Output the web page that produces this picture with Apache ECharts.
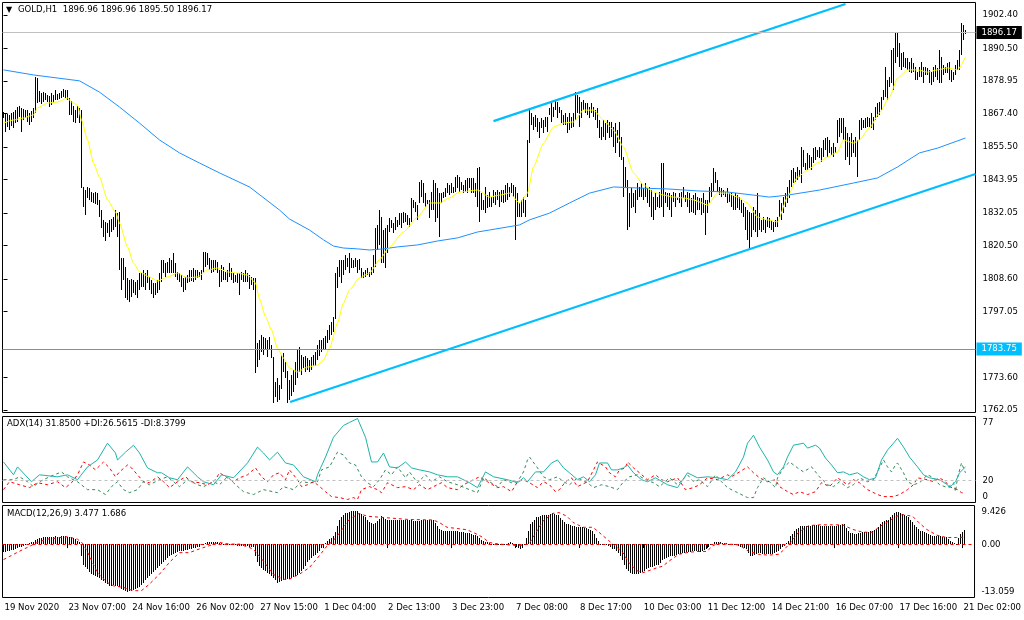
<!DOCTYPE html>
<html><head><meta charset="utf-8">
<script src="https://cdn.jsdelivr.net/npm/echarts@6/dist/echarts.min.js"></script>
<style>html,body{margin:0;padding:0;background:#fff}#c{width:1024px;height:620px}</style>
</head><body><div id="c"></div><script>
// ---- price bars (H1) ----
const barHigh = [
1867.9,1867.6,1867.2,1866.9,1867.6,1867.9,1868.6,1869.7,1870.1,1869.4,
1869.0,1868.6,1868.6,1867.6,1868.3,1869.4,1880.4,1880.0,1875.4,1874.7,
1875.0,1874.7,1874.0,1873.6,1874.7,1874.0,1875.8,1874.3,1874.7,1875.4,
1876.1,1875.8,1875.8,1872.9,1871.8,1870.1,1868.6,1870.1,1869.4,1868.6,
1841.3,1840.2,1841.3,1840.9,1839.5,1839.1,1839.5,1839.1,1836.7,1833.1,
1829.6,1828.9,1828.5,1829.6,1829.9,1830.6,1833.1,1832.0,1832.4,1816.1,
1816.1,1812.9,1809.0,1808.2,1808.6,1808.2,1807.5,1808.2,1810.7,1810.7,
1811.8,1810.7,1811.8,1809.3,1808.2,1807.2,1807.2,1808.2,1810.7,1815.4,
1815.4,1814.3,1814.6,1816.1,1815.4,1817.8,1814.3,1811.1,1810.7,1810.0,
1809.0,1809.3,1810.0,1811.8,1811.8,1812.5,1811.8,1811.8,1811.1,1811.8,
1818.2,1818.2,1817.8,1816.1,1815.4,1815.4,1815.4,1814.6,1811.8,1813.6,
1812.9,1811.1,1811.8,1814.3,1812.5,1810.7,1810.0,1810.7,1810.7,1811.1,
1810.7,1811.8,1810.7,1810.0,1809.3,1809.0,1809.0,1785.9,1787.0,1788.7,
1788.0,1787.6,1787.0,1788.0,1785.2,1781.0,1772.0,1773.4,1770.9,1781.6,
1782.3,1779.1,1776.0,1772.7,1774.5,1776.3,1779.1,1783.4,1784.4,1781.6,
1780.9,1781.2,1780.5,1779.8,1780.9,1781.6,1782.7,1785.2,1786.9,1786.9,
1787.6,1788.3,1790.5,1792.3,1793.3,1795.1,1810.7,1812.9,1815.4,1815.4,
1815.4,1817.1,1816.1,1817.8,1816.1,1815.4,1816.1,1815.4,1815.7,1812.5,
1811.1,1811.8,1812.5,1811.1,1812.9,1817.1,1826.7,1827.8,1833.1,1830.6,
1826.0,1826.7,1827.8,1830.2,1829.6,1828.5,1830.6,1829.6,1831.9,1831.9,
1832.4,1831.9,1831.3,1830.2,1837.4,1836.7,1836.0,1834.9,1843.1,1843.8,
1842.7,1839.1,1836.7,1836.7,1839.5,1843.8,1842.7,1840.9,1839.1,1839.1,
1839.5,1840.9,1842.7,1842.0,1842.7,1841.3,1844.8,1845.6,1844.8,1843.1,
1842.0,1843.8,1844.5,1844.5,1844.5,1844.5,1842.7,1848.0,1848.4,1839.1,
1836.7,1841.3,1838.4,1839.5,1837.7,1840.2,1839.5,1840.2,1839.5,1840.2,
1840.2,1842.0,1842.7,1841.3,1842.7,1842.0,1841.3,1839.1,1835.6,1836.7,
1837.7,1836.7,1858.0,1868.6,1867.6,1866.2,1866.9,1865.8,1864.4,1865.8,
1865.1,1866.2,1866.2,1869.4,1871.1,1869.7,1872.2,1871.5,1869.7,1868.6,
1866.9,1867.6,1866.2,1867.6,1866.2,1867.6,1875.0,1874.0,1873.3,1871.5,
1872.2,1871.1,1871.1,1869.7,1871.1,1869.7,1868.6,1869.4,1865.1,1862.6,
1865.1,1864.0,1865.1,1864.4,1864.4,1862.6,1864.0,1861.5,1864.4,1859.1,
1852.0,1848.4,1843.8,1839.1,1840.9,1839.1,1840.2,1842.7,1841.3,1842.7,
1840.9,1842.7,1840.9,1841.3,1840.2,1837.7,1839.1,1837.7,1839.5,1849.8,
1849.8,1839.5,1839.1,1839.1,1838.4,1839.5,1839.1,1837.7,1839.1,1839.5,
1841.3,1838.4,1839.5,1839.1,1837.4,1838.4,1839.1,1837.7,1837.4,1837.4,
1839.1,1836.7,1836.7,1841.3,1842.7,1848.0,1846.6,1843.8,1841.3,1840.9,
1840.2,1839.5,1840.9,1839.1,1839.5,1838.4,1839.1,1838.4,1837.7,1836.7,
1835.6,1834.2,1833.1,1832.4,1832.0,1834.2,1833.1,1839.1,1832.0,1829.6,
1830.6,1829.6,1830.6,1830.2,1829.6,1828.9,1829.6,1830.6,1836.7,1835.6,
1837.7,1839.1,1841.3,1843.8,1847.3,1848.0,1846.6,1848.4,1847.3,1855.5,
1854.4,1849.8,1853.4,1852.7,1851.9,1855.1,1855.5,1854.4,1855.5,1855.1,
1858.0,1858.7,1859.1,1858.0,1855.5,1856.9,1855.5,1865.1,1865.8,1865.8,
1865.8,1862.6,1860.5,1859.1,1860.5,1858.0,1859.1,1858.0,1865.1,1865.8,
1865.1,1865.8,1866.2,1865.8,1867.6,1866.2,1869.7,1871.1,1871.5,1873.3,
1875.8,1883.9,1879.3,1880.4,1890.0,1890.7,1896.4,1896.0,1892.4,1888.9,
1889.3,1887.1,1887.1,1885.7,1887.1,1885.3,1883.9,1882.1,1883.9,1885.7,
1883.9,1883.9,1883.6,1882.9,1882.1,1883.9,1884.6,1883.6,1890.0,1887.5,
1884.6,1883.9,1885.3,1885.7,1882.9,1882.1,1884.6,1886.4,1890.0,1899.6,
1898.9,1896.96];
const barLow = [
1865.8,1860.8,1862.6,1861.5,1862.9,1862.3,1864.0,1864.4,1866.2,1860.8,
1865.1,1865.8,1864.4,1863.3,1864.4,1865.8,1867.6,1871.1,1871.5,1870.8,
1871.5,1872.2,1871.5,1869.7,1870.4,1871.1,1872.2,1872.2,1872.6,1872.9,
1873.3,1872.9,1872.2,1866.9,1866.9,1864.4,1864.0,1865.8,1864.0,1840.9,
1834.2,1831.3,1837.4,1836.7,1836.0,1835.6,1835.3,1834.9,1830.6,1826.7,
1823.4,1822.1,1825.0,1823.5,1825.3,1826.0,1827.1,1823.5,1811.8,1804.7,
1808.2,1801.9,1801.1,1800.4,1802.2,1803.6,1802.9,1801.9,1804.7,1805.8,
1805.8,1804.7,1807.2,1804.7,1803.3,1801.9,1802.9,1803.6,1804.7,1807.5,
1810.7,1809.3,1810.7,1810.7,1810.7,1810.7,1809.3,1808.2,1807.5,1805.8,
1804.0,1804.7,1807.2,1807.5,1807.9,1807.5,1808.2,1808.9,1809.3,1808.2,
1810.7,1812.9,1813.6,1811.8,1810.7,1811.1,1811.8,1810.7,1805.8,1807.5,
1808.2,1808.2,1807.5,1809.3,1808.2,1807.2,1807.5,1807.2,1802.9,1808.2,
1807.5,1807.5,1807.5,1805.1,1806.5,1804.7,1775.2,1777.3,1779.8,1782.7,
1781.6,1783.4,1780.9,1783.4,1780.5,1764.6,1766.7,1764.9,1765.6,1769.5,
1775.6,1773.4,1764.5,1765.6,1767.0,1768.4,1770.9,1773.4,1775.6,1774.5,
1777.0,1775.6,1776.3,1775.6,1776.3,1777.7,1777.7,1779.8,1781.2,1782.7,
1783.4,1783.4,1785.9,1786.9,1788.7,1789.8,1794.5,1805.4,1809.3,1807.2,
1810.0,1811.8,1812.9,1810.7,1812.5,1812.5,1812.9,1810.7,1811.8,1808.9,
1808.9,1809.3,1810.0,1809.3,1810.0,1810.7,1812.9,1818.9,1820.7,1814.3,
1814.3,1812.5,1817.8,1825.3,1826.7,1825.0,1826.0,1827.1,1827.8,1826.7,
1828.5,1828.9,1827.8,1827.1,1828.9,1833.8,1832.4,1829.6,1835.6,1837.8,
1835.6,1834.2,1834.9,1830.2,1833.1,1833.1,1828.9,1830.2,1823.5,1835.6,
1837.4,1837.8,1839.1,1838.5,1839.1,1839.1,1839.5,1840.9,1839.5,1840.2,
1839.1,1839.5,1839.1,1840.9,1839.1,1839.1,1837.8,1834.2,1828.9,1833.1,
1833.1,1832.0,1833.8,1834.2,1834.2,1835.6,1834.9,1836.7,1834.2,1836.0,
1835.6,1836.0,1836.7,1837.8,1839.1,1837.8,1822.5,1830.6,1830.6,1830.6,
1832.0,1830.6,1837.7,1856.9,1863.3,1861.5,1862.6,1860.8,1858.7,1862.3,
1860.5,1862.6,1860.8,1866.9,1864.4,1866.2,1868.6,1865.8,1867.6,1864.0,
1863.3,1863.3,1860.5,1861.5,1862.3,1862.6,1865.1,1867.6,1862.6,1865.8,
1868.6,1867.6,1866.9,1865.8,1867.6,1866.2,1865.1,1862.3,1858.7,1858.0,
1859.1,1858.0,1860.5,1858.7,1859.1,1855.5,1853.4,1856.9,1852.0,1850.9,
1837.7,1841.3,1826.0,1827.1,1833.8,1834.2,1832.0,1836.7,1837.8,1837.8,
1836.7,1837.8,1835.6,1834.2,1830.6,1829.6,1833.1,1834.2,1833.8,1834.2,
1830.6,1835.6,1834.2,1833.1,1830.6,1836.0,1834.2,1836.7,1835.6,1834.2,
1837.4,1836.0,1834.2,1832.0,1832.4,1832.0,1831.3,1833.1,1833.1,1831.3,
1832.0,1824.2,1832.0,1835.6,1837.8,1839.5,1842.7,1839.5,1838.4,1837.7,
1838.4,1837.7,1835.6,1836.0,1834.2,1833.1,1833.1,1833.8,1833.1,1832.0,
1830.6,1826.0,1822.5,1818.9,1823.5,1826.0,1825.3,1823.5,1826.0,1825.3,
1826.0,1825.0,1827.1,1826.7,1826.0,1825.3,1827.1,1827.1,1830.6,1829.6,
1832.0,1834.2,1835.6,1837.4,1841.3,1842.7,1843.1,1843.8,1844.8,1842.7,
1848.4,1847.3,1847.3,1848.0,1847.3,1849.8,1850.9,1852.0,1851.6,1850.2,
1852.0,1854.4,1852.0,1853.4,1852.7,1852.0,1853.4,1856.9,1859.1,1860.5,
1858.0,1850.9,1852.0,1849.1,1852.0,1853.4,1852.0,1844.8,1858.0,1861.5,
1862.3,1862.3,1862.6,1862.6,1862.3,1861.5,1865.1,1866.2,1866.9,1868.6,
1872.2,1873.3,1872.2,1876.8,1878.2,1875.8,1885.3,1887.5,1883.9,1882.9,
1883.9,1883.6,1882.9,1882.1,1881.8,1882.1,1879.3,1879.3,1880.4,1880.4,
1878.2,1881.1,1881.1,1878.2,1877.5,1878.6,1880.4,1879.3,1878.2,1878.2,
1881.1,1881.8,1881.8,1879.3,1878.6,1879.3,1881.1,1882.9,1882.9,1888.2,
1893.5,1895.50];

// ---- moving averages on price: [bar index, value] ----
const maFast = [[0,1864.0],[5,1865.1],[10,1865.8],[15,1866.9],[17,1869.4],[22,1871.1],[27,1871.5],[32,1872.9],[34,1871.5],[37,1870.4],[39,1865.1],[42,1858.0],[45,1849.8],[48,1844.8],[52,1836.7],[56,1832.4],[58,1828.5],[62,1820.0],[65,1814.3],[68,1811.1],[73,1809.3],[77,1807.9],[82,1809.3],[87,1810.7],[92,1809.0],[97,1809.3],[102,1811.8],[107,1812.5],[112,1811.1],[117,1810.7],[122,1810.0],[126,1807.2],[128,1801.5],[131,1795.2],[134,1790.5],[137,1784.0],[140,1780.5],[143,1777.0],[147,1775.6],[152,1777.3],[157,1778.0],[160,1779.8],[163,1784.0],[167,1793.0],[170,1800.1],[173,1804.7],[178,1809.0],[183,1810.7],[188,1815.4],[193,1820.0],[200,1825.3],[207,1830.6],[213,1835.6],[218,1835.6],[223,1837.4],[228,1839.5],[237,1840.2],[243,1837.7],[248,1838.4],[253,1839.1],[258,1835.6],[262,1839.1],[265,1848.4],[270,1856.9],[275,1862.6],[280,1864.0],[285,1864.4],[290,1868.6],[295,1868.6],[300,1865.1],[305,1861.5],[310,1855.5],[315,1846.3],[320,1842.0],[325,1839.5],[330,1838.4],[335,1837.7],[340,1837.4],[345,1836.7],[352,1834.9],[357,1839.1],[362,1839.1],[367,1837.7],[372,1835.6],[377,1830.6],[382,1829.6],[387,1828.9],[392,1837.7],[397,1844.8],[402,1847.3],[407,1849.8],[412,1851.9],[417,1853.7],[420,1858.0],[425,1856.9],[428,1858.0],[433,1862.3],[438,1867.6],[443,1873.3],[447,1880.0],[452,1882.9],[457,1882.9],[462,1882.1],[467,1882.9],[472,1883.6],[477,1882.9],[481,1887.5]];
const maSlow = [[0,1882.9],[15,1881.1],[38,1879.0],[48,1875.0],[58,1869.7],[68,1864.0],[78,1858.0],[88,1853.4],[98,1849.8],[108,1846.3],[123,1841.3],[138,1833.1],[143,1829.9],[153,1826.0],[160,1822.5],[165,1820.3],[170,1819.6],[177,1819.3],[183,1818.9],[190,1819.3],[197,1820.0],[207,1820.7],[217,1822.1],[227,1823.2],[237,1825.3],[243,1826.0],[258,1827.8],[263,1829.6],[273,1832.0],[283,1835.6],[293,1839.1],[305,1841.3],[318,1840.9],[332,1840.6],[347,1839.9],[362,1839.5],[375,1838.4],[383,1837.7],[392,1838.4],[408,1840.2],[425,1842.7],[437,1844.5],[447,1848.4],[458,1853.4],[467,1855.1],[481,1858.7]];

// ---- drawn objects ----
const upperChannel = [[245,1864.7],[421,1906.3]];
const lowerChannel = [[143.3,1764.9],[486,1845.9]];
const supportLevel = 1783.75;
const bidPrice = 1896.17;

// ---- ADX(14): [bar index, value] ----
const adxMain = [[0,36.3],[5,24.8],[7,31.9],[14,18.6],[18,24.8],[27,23.0],[32,24.8],[37,20.4],[42,31.9],[47,38.1],[52,53.1],[56,44.3],[57,38.1],[61,45.1],[65,51.3],[68,44.3],[72,31.0],[77,26.6],[79,26.6],[83,22.1],[87,20.4],[92,31.9],[97,23.0],[100,18.6],[105,15.9],[109,24.8],[115,22.1],[122,35.4],[127,49.6],[130,44.3],[133,38.1],[137,45.1],[141,35.4],[145,33.6],[150,23.0],[156,18.6],[157,24.8],[161,40.7],[165,58.4],[170,69.0],[173,71.7],[177,75.2],[181,58.4],[184,36.3],[187,36.3],[190,44.3],[193,31.9],[197,31.0],[201,36.3],[204,31.0],[208,29.2],[213,27.4],[217,24.8],[222,23.0],[227,23.0],[233,17.7],[237,13.3],[241,27.4],[245,23.0],[252,20.4],[257,17.7],[260,22.1],[262,18.6],[266,27.4],[270,27.4],[274,35.4],[277,38.1],[280,31.0],[283,26.6],[287,20.4],[290,23.0],[293,18.6],[296,24.8],[298,35.4],[302,35.4],[304,29.2],[307,29.2],[310,31.0],[312,33.6],[315,26.6],[319,20.4],[322,18.6],[326,22.1],[332,15.9],[337,13.3],[342,26.6],[347,22.1],[352,23.0],[357,22.1],[362,20.4],[366,27.4],[370,40.7],[372,53.1],[375,60.2],[378,49.6],[382,38.1],[385,27.4],[387,24.8],[390,31.9],[392,40.7],[395,51.3],[400,53.1],[402,48.7],[406,51.3],[408,48.7],[411,39.8],[414,33.6],[417,26.6],[420,27.4],[423,24.8],[427,26.6],[430,23.0],[433,20.4],[436,22.1],[439,38.1],[442,46.9],[445,53.1],[447,57.5],[450,49.6],[453,40.7],[457,31.9],[460,24.8],[463,22.1],[468,20.4],[472,15.9],[473,13.3],[476,18.6],[478,26.6],[481,31.85]];
const plusDI = [[0,20.4],[5,20.4],[8,23.0],[12,18.6],[15,14.2],[18,18.6],[23,23.0],[29,27.4],[32,23.0],[37,18.6],[42,11.5],[47,11.5],[51,7.1],[54,14.2],[57,18.6],[60,11.5],[63,8.8],[67,11.5],[70,18.6],[73,15.9],[78,20.4],[82,23.0],[85,18.6],[88,14.2],[92,20.4],[97,15.9],[100,14.2],[105,18.6],[108,15.9],[112,23.0],[115,17.7],[120,9.7],[125,7.1],[130,11.5],[137,8.8],[140,14.2],[145,11.5],[149,18.6],[153,17.7],[157,18.6],[159,29.2],[163,31.9],[167,45.1],[170,42.5],[173,35.4],[176,33.6],[179,23.0],[182,17.7],[185,14.2],[188,20.4],[191,29.2],[194,24.8],[197,31.9],[201,22.1],[203,27.4],[207,17.7],[211,24.8],[214,18.6],[218,23.0],[222,18.6],[227,15.9],[233,11.5],[237,8.8],[240,22.1],[243,18.6],[247,14.2],[250,20.4],[254,17.7],[257,18.6],[260,27.4],[262,38.1],[263,40.7],[267,31.0],[270,23.0],[273,20.4],[277,23.0],[280,18.6],[283,15.9],[287,22.1],[292,17.7],[295,13.3],[299,15.9],[303,14.2],[307,11.5],[310,18.6],[313,23.0],[317,24.8],[321,20.4],[325,17.7],[328,14.2],[333,22.1],[337,15.9],[342,24.8],[345,18.6],[348,20.4],[352,14.2],[356,24.8],[359,18.6],[362,13.3],[366,9.7],[372,4.4],[375,4.4],[377,13.3],[380,22.1],[383,18.6],[386,13.3],[387,22.1],[390,31.0],[393,36.3],[397,31.0],[400,27.4],[404,31.9],[408,23.0],[412,15.9],[415,14.2],[418,18.6],[422,13.3],[425,15.9],[428,22.1],[432,18.6],[435,20.4],[438,31.0],[440,38.1],[442,31.9],[444,27.4],[446,33.6],[447,35.4],[450,26.6],[452,18.6],[455,15.9],[458,17.7],[462,24.8],[465,22.1],[468,15.9],[472,13.3],[475,17.7],[476,9.7],[477,22.1],[479,35.4],[481,26.56]];
const minusDI = [[0,11.5],[3,18.6],[8,15.9],[13,13.3],[17,17.7],[22,15.9],[27,18.6],[31,13.3],[34,17.7],[37,24.8],[40,36.3],[43,33.6],[46,29.2],[50,36.3],[53,31.0],[56,23.0],[58,27.4],[62,33.6],[64,31.0],[67,24.8],[70,18.6],[73,17.7],[77,23.0],[80,18.6],[83,13.3],[87,18.6],[91,23.0],[94,18.6],[98,17.7],[102,15.9],[106,20.4],[108,26.6],[112,22.1],[115,18.6],[118,22.1],[122,24.8],[126,31.0],[129,23.0],[132,18.6],[135,24.8],[138,26.6],[141,20.4],[143,29.2],[147,20.4],[149,14.2],[152,15.9],[155,18.6],[157,15.9],[161,9.7],[164,5.3],[168,4.4],[172,2.7],[175,4.4],[177,2.7],[179,11.5],[183,14.2],[187,11.5],[189,8.8],[192,17.7],[197,13.3],[201,14.2],[205,11.5],[208,15.9],[212,11.5],[215,14.2],[219,17.7],[222,13.3],[227,11.5],[230,15.9],[233,18.6],[238,23.0],[242,18.6],[247,13.3],[250,14.2],[254,9.7],[257,18.6],[260,20.4],[263,17.7],[267,13.3],[270,18.6],[273,15.9],[276,9.7],[278,11.5],[281,18.6],[284,22.1],[287,14.2],[292,18.6],[295,29.2],[297,36.3],[301,31.9],[303,26.6],[306,23.0],[308,29.2],[311,31.0],[312,36.3],[315,31.0],[318,26.6],[322,20.4],[326,24.8],[329,20.4],[332,18.6],[337,22.1],[341,11.5],[345,13.3],[348,15.9],[352,22.1],[357,20.4],[362,24.8],[364,23.0],[368,27.4],[372,31.9],[375,26.6],[378,22.1],[382,18.6],[386,20.4],[388,14.2],[392,9.7],[395,7.1],[398,9.7],[402,7.1],[406,9.7],[409,17.7],[413,14.2],[417,22.1],[422,15.9],[425,20.4],[428,17.7],[432,11.5],[437,7.1],[440,5.3],[445,5.3],[448,7.1],[452,11.5],[455,15.9],[457,22.1],[462,20.4],[465,18.6],[468,22.1],[471,18.6],[473,14.2],[477,11.5],[479,8.8],[481,8.38]];
const adxLevel = 20;

// ---- MACD(12,26,9) ----
const macdHist = [
-2.0,-1.9,-1.8,-1.7,-1.5,-1.4,-1.2,-1.0,-0.8,-0.6,
-0.4,-0.2,0.0,0.2,0.4,0.6,1.0,1.3,1.4,1.6,
1.7,1.7,1.8,1.7,1.8,1.8,1.9,1.8,1.8,1.9,
1.9,1.9,1.8,1.8,1.7,1.5,1.3,0.8,0.5,-3.0,
-5.0,-5.6,-6.2,-6.8,-7.4,-7.6,-7.8,-8.0,-8.3,-8.7,
-9.0,-9.4,-9.8,-10.2,-10.2,-10.1,-10.2,-10.3,-10.6,-10.9,
-11.2,-11.4,-11.6,-11.5,-11.4,-11.2,-11.0,-10.7,-10.4,-9.9,
-9.4,-8.9,-8.4,-7.9,-7.4,-6.9,-6.4,-5.9,-5.4,-4.9,
-4.4,-3.9,-3.5,-3.0,-2.7,-2.4,-2.2,-2.0,-1.8,-1.7,
-1.6,-1.5,-1.4,-1.3,-1.1,-1.0,-0.9,-0.7,-0.6,-0.3,
-0.1,0.2,0.4,0.4,0.5,0.5,0.4,0.4,0.3,0.2,
0.1,0.1,0.0,-0.1,-0.2,-0.3,-0.3,-0.4,-0.4,-0.4,
-0.5,-0.5,-0.5,-0.6,-0.6,-0.8,-3.0,-4.3,-5.4,-5.9,
-6.3,-6.7,-7.0,-7.4,-7.8,-8.2,-8.8,-9.4,-9.3,-9.0,
-8.8,-8.7,-8.6,-8.5,-8.3,-8.0,-7.8,-7.5,-7.0,-6.5,
-6.0,-5.3,-4.5,-3.8,-3.4,-3.0,-2.6,-2.2,-1.6,-1.0,
-0.5,0.2,0.8,1.2,1.6,2.0,3.0,4.3,6.0,6.6,
7.2,7.5,7.7,7.9,8.0,8.1,8.1,8.0,7.7,7.3,
6.9,6.5,5.9,5.3,5.1,5.0,5.2,5.6,6.2,6.8,
6.5,6.2,6.0,5.9,5.8,5.8,5.9,5.9,5.9,5.8,
5.9,5.9,5.9,5.8,5.8,5.7,5.6,5.6,5.7,5.8,
5.8,5.9,5.9,5.9,5.9,5.9,5.1,4.3,3.8,3.4,
3.1,3.1,3.2,3.3,3.3,3.3,3.2,3.1,3.0,2.9,
2.9,2.8,2.8,2.7,2.5,2.3,2.1,1.9,1.5,1.1,
0.8,0.6,0.4,0.2,0.1,0.0,0.0,0.0,0.0,-0.1,
0.0,0.0,0.0,0.2,0.4,0.3,-0.2,-0.6,-0.9,-1.2,
-0.9,-0.3,1.5,3.2,4.8,5.5,6.0,6.5,6.7,6.9,
7.0,7.1,7.1,7.2,7.4,7.5,7.4,7.2,7.0,6.4,
5.8,5.3,5.0,4.8,4.6,4.4,4.3,4.1,4.1,4.1,
4.1,4.0,3.9,3.8,3.5,3.1,2.4,1.6,0.8,0.0,
-0.1,-0.1,-0.2,-0.5,-0.8,-1.1,-1.3,-1.6,-2.2,-2.8,
-4.0,-5.2,-6.2,-6.6,-7.0,-7.2,-7.3,-7.4,-7.2,-7.0,
-6.8,-6.5,-6.2,-5.9,-5.7,-5.5,-5.4,-5.2,-5.0,-4.6,
-4.0,-3.6,-3.3,-3.1,-3.0,-2.9,-2.8,-2.6,-2.5,-2.4,
-2.2,-2.1,-2.0,-1.9,-1.9,-1.8,-1.8,-1.8,-1.9,-1.9,
-1.8,-1.5,-1.1,-0.8,-0.3,0.1,0.4,0.5,0.5,0.4,
0.3,0.3,0.2,0.1,0.1,0.0,-0.1,-0.3,-0.4,-0.6,
-0.8,-1.0,-1.2,-2.2,-3.0,-2.8,-2.6,-2.4,-2.2,-2.3,
-2.4,-2.5,-2.5,-2.5,-2.5,-2.5,-2.3,-2.0,-1.6,-1.2,
-0.8,-0.4,0.2,0.8,1.9,2.5,3.1,3.6,4.0,4.3,
4.4,4.4,4.5,4.5,4.5,4.6,4.6,4.6,4.6,4.5,
4.5,4.5,4.5,4.5,4.4,4.4,4.3,4.4,4.6,4.7,
4.8,4.8,4.0,3.1,2.8,2.6,2.5,2.4,2.6,2.8,
2.9,2.9,3.0,3.0,3.1,3.2,3.4,3.6,4.2,4.8,
5.3,5.6,5.8,6.0,6.5,7.0,7.5,7.8,7.9,7.6,
7.3,7.0,6.8,6.5,5.9,5.3,4.7,4.1,3.6,3.3,
3.1,2.9,2.7,2.5,2.2,2.0,2.0,1.9,1.9,1.9,
1.8,1.8,1.8,1.3,0.8,0.5,0.3,0.1,1.6,2.4,
3.0,3.477];
const macdSignal = [[0,-3.8],[7,-2.0],[12,-0.8],[17,0.4],[22,1.2],[32,1.8],[37,1.2],[40,0],[43,-2.9],[47,-7.0],[52,-9.4],[55,-10.2],[60,-10.6],[65,-11.4],[69,-11.4],[73,-9.8],[78,-7.4],[83,-4.5],[88,-2.1],[93,-2.1],[98,-1.2],[103,-0.4],[108,0.4],[113,0],[118,0],[125,-1.2],[130,-4.1],[135,-7.4],[140,-8.6],[143,-8.6],[148,-7.4],[153,-5.8],[158,-2.9],[162,-0.4],[165,0.8],[168,2.6],[173,6.0],[178,7.5],[182,6.8],[190,6.5],[203,6.0],[215,5.9],[218,5.3],[222,4.1],[227,3.8],[232,3.5],[237,2.4],[240,1.6],[243,0.4],[248,0],[253,-0.2],[258,-0.4],[263,0],[266,2.4],[270,5.6],[275,7.5],[278,7.7],[282,6.8],[285,5.3],[290,4.1],[295,4.1],[298,2.9],[303,0.8],[307,-0.8],[310,-2.1],[313,-4.5],[317,-6.5],[320,-7.0],[323,-6.5],[327,-5.8],[330,-5.4],[333,-4.2],[338,-2.5],[343,-2.0],[348,-1.8],[352,-1.8],[355,-0.4],[358,0.2],[363,0],[368,-0.2],[373,-1.8],[378,-2.5],[383,-2.7],[388,-2.5],[391,-1.2],[394,0.4],[398,2.9],[403,4.5],[408,4.7],[415,4.7],[420,4.7],[425,3.6],[430,2.9],[435,2.9],[438,4.1],[443,5.6],[447,6.8],[450,7.2],[455,6.8],[458,5.3],[462,3.6],[467,2.2],[472,1.6],[477,1.6],[481,1.686]];

// ---- axes ----
const priceTicks = [1762.05,1773.60,1797.05,1808.60,1820.50,1832.05,1843.95,1855.50,1867.40,1878.95,1890.50,1902.40];
const adxTicks = [0,20,77];
const macdTicks = [-13.059,0,9.426];
const timeTickIdx = [0,32,64,96,128,160,192,224,256,288,320,352,384,416,448,480];
const timeLabels = ['19 Nov 2020','23 Nov 07:00','24 Nov 16:00','26 Nov 02:00','27 Nov 15:00','1 Dec 04:00','2 Dec 13:00','3 Dec 23:00','7 Dec 08:00','8 Dec 17:00','10 Dec 03:00','11 Dec 12:00','14 Dec 21:00','16 Dec 07:00','17 Dec 16:00','21 Dec 02:00'];

const FONT = '"DejaVu Sans Condensed","Liberation Sans",Arial,sans-serif';
const FS = 9.5;
const X0 = -0.5, X1 = 486;

function rangeItem(params, api) {
  const i = api.value(0);
  const a = api.coord([i, api.value(1)]);
  const b = api.coord([i, api.value(2)]);
  const x = Math.round(a[0] - 0.5);
  const y1 = Math.round(Math.min(a[1], b[1]));
  const y2 = Math.round(Math.max(a[1], b[1]));
  return {type: 'rect', shape: {x: x, y: y1, width: 1, height: Math.max(1, y2 - y1)}, style: {fill: '#000'}};
}
const edgeLabel = (txt, isTop, isBottom) => isTop ? '{t|' + txt + '}' : (isBottom ? '{b|' + txt + '}' : txt);
const edgeRich = {t: {padding: [13, 0, 0, 0], fontSize: FS, fontFamily: FONT, color: '#000'}, b: {padding: [0, 0, 11, 0], fontSize: FS, fontFamily: FONT, color: '#000'}};

const yCommon = {
  type: 'value', position: 'right', splitLine: {show: false}, axisLine: {show: false},
  axisTick: {show: true, length: 4, lineStyle: {color: '#000'}}
};

const option = {
  animation: false,
  backgroundColor: '#fff',
  textStyle: {fontFamily: FONT},
  title: [
    {text: '\u25BC', left: 6, top: 6, padding: 0, textStyle: {fontSize: 8, color: '#000', fontWeight: 'normal', fontFamily: 'DejaVu Sans'}},
    {text: 'GOLD,H1  1896.96 1896.96 1895.50 1896.17', left: 18, top: 5, padding: 0, textStyle: {fontSize: FS, color: '#000', fontWeight: 'normal', fontFamily: FONT}},
    {text: 'ADX(14) 31.8500 +DI:26.5615 -DI:8.3799', left: 7, top: 419, padding: 0, textStyle: {fontSize: FS, color: '#000', fontWeight: 'normal', fontFamily: FONT}},
    {text: 'MACD(12,26,9) 3.477 1.686', left: 7, top: 509, padding: 0, textStyle: {fontSize: FS, color: '#000', fontWeight: 'normal', fontFamily: FONT}}
  ],
  grid: [
    {left: 2.5, top: 2.5, width: 973, height: 410, show: true, borderColor: '#000', borderWidth: 1},
    {left: 2.5, top: 416.5, width: 973, height: 86, show: true, borderColor: '#000', borderWidth: 1},
    {left: 2.5, top: 505.5, width: 973, height: 92, show: true, borderColor: '#000', borderWidth: 1}
  ],
  xAxis: [
    {type: 'value', gridIndex: 0, min: X0, max: X1, show: false},
    {type: 'value', gridIndex: 1, min: X0, max: X1, show: false},
    {type: 'value', gridIndex: 2, min: X0, max: X1, splitLine: {show: false}, axisLine: {show: false},
     axisTick: {show: true, customValues: timeTickIdx, length: 4, lineStyle: {color: '#000'}},
     axisLabel: {customValues: timeTickIdx, formatter: v => timeLabels[timeTickIdx.indexOf(Math.round(v))] || '',
       align: 'left', margin: 5, padding: [0, 0, 0, 1], color: '#000', fontSize: FS, fontFamily: FONT}}
  ],
  yAxis: [
    Object.assign({}, yCommon, {gridIndex: 0, min: 1761.16, max: 1906.84,
      axisTick: {show: true, length: 4, customValues: priceTicks, lineStyle: {color: '#000'}},
      axisLabel: {customValues: priceTicks, formatter: v => v.toFixed(2), margin: 7, color: '#000', fontSize: FS, fontFamily: FONT}}),
    Object.assign({}, yCommon, {gridIndex: 1, min: 0, max: 77,
      axisTick: {show: false},
      axisLabel: {customValues: adxTicks, formatter: v => edgeLabel(String(Math.round(v)), v === 77, v === 0), rich: edgeRich, margin: 7, color: '#000', fontSize: FS, fontFamily: FONT}}),
    Object.assign({}, yCommon, {gridIndex: 2, min: -13.059, max: 9.426,
      axisTick: {show: false},
      axisLabel: {customValues: macdTicks, formatter: v => edgeLabel(v === 0 ? '0.00' : String(v), v > 9, v < -13), rich: edgeRich, margin: 7, color: '#000', fontSize: FS, fontFamily: FONT}})
  ],
  series: [
    {name: 'bars', type: 'custom', xAxisIndex: 0, yAxisIndex: 0, renderItem: rangeItem, clip: true,
     encode: {x: 0, y: [1, 2]}, data: barHigh.map((h, i) => [i, barLow[i], h]), z: 2},
    {name: 'maSlow', type: 'line', xAxisIndex: 0, yAxisIndex: 0, data: maSlow, showSymbol: false, symbol: 'none',
     lineStyle: {color: '#1E90FF', width: 1}, z: 3,
     markLine: {silent: true, symbol: ['none', 'none'], animation: false,
       data: [
         {yAxis: supportLevel, lineStyle: {color: '#00BFFF', width: 1, type: 'solid'},
          label: {show: true, position: 'end', distance: 1, formatter: '1783.75', color: '#fff', backgroundColor: '#00BFFF', padding: [2, 5, 1, 5], fontSize: FS, fontFamily: FONT}},
         {yAxis: bidPrice, lineStyle: {color: '#C0C0C0', width: 1, type: 'solid'},
          label: {show: true, position: 'end', distance: 1, formatter: '1896.17', color: '#fff', backgroundColor: '#000', padding: [2, 5, 1, 5], fontSize: FS, fontFamily: FONT}}
       ]}},
    {name: 'maFast', type: 'line', xAxisIndex: 0, yAxisIndex: 0, data: maFast, showSymbol: false, symbol: 'none',
     smooth: 0.2, smoothMonotone: 'x',
     lineStyle: {color: '#FFFF00', width: 1}, z: 3},
    {name: 'upper', type: 'line', xAxisIndex: 0, yAxisIndex: 0, data: upperChannel, showSymbol: false, symbol: 'none',
     lineStyle: {color: '#00BFFF', width: 2.2}, z: 4},
    {name: 'lower', type: 'line', xAxisIndex: 0, yAxisIndex: 0, data: lowerChannel, showSymbol: false, symbol: 'none',
     lineStyle: {color: '#00BFFF', width: 2.2}, z: 4},
    {name: 'ADX', type: 'line', xAxisIndex: 1, yAxisIndex: 1, data: adxMain, showSymbol: false, symbol: 'none',
     lineStyle: {color: '#20B2AA', width: 1}, z: 4,
     markLine: {silent: true, symbol: ['none', 'none'], animation: false, label: {show: false},
       data: [{yAxis: adxLevel, lineStyle: {color: '#C0C0C0', width: 1, type: [3, 3]}}]}},
    {name: '+DI', type: 'line', xAxisIndex: 1, yAxisIndex: 1, data: plusDI, showSymbol: false, symbol: 'none',
     lineStyle: {color: '#2E8B57', width: 1, type: [3, 3]}, z: 3},
    {name: '-DI', type: 'line', xAxisIndex: 1, yAxisIndex: 1, data: minusDI, showSymbol: false, symbol: 'none',
     lineStyle: {color: '#FF0000', width: 1, type: [3, 3]}, z: 3},
    {name: 'MACD', type: 'custom', xAxisIndex: 2, yAxisIndex: 2, renderItem: rangeItem, clip: true,
     encode: {x: 0, y: [1, 2]}, data: macdHist.map((v, i) => [i, 0, v]), z: 2},
    {name: 'Signal', type: 'line', xAxisIndex: 2, yAxisIndex: 2, data: macdSignal, showSymbol: false, symbol: 'none',
     lineStyle: {color: '#FF0000', width: 1, type: [3, 3]}, z: 3,
     markLine: {silent: true, symbol: ['none', 'none'], animation: false, label: {show: false},
       data: [{yAxis: 0, lineStyle: {color: '#FF0000', width: 1, type: [3, 3]}}]}}
  ]
};
const chart = echarts.init(document.getElementById('c'), null, {renderer: 'canvas', width: 1024, height: 620});
chart.setOption(option);
</script></body></html>
